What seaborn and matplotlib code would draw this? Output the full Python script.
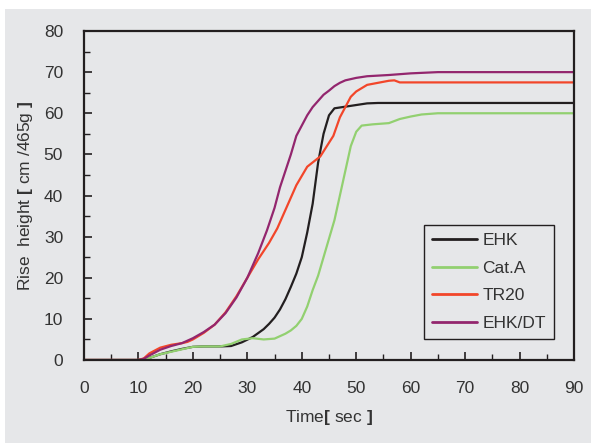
import matplotlib
matplotlib.use("Agg")
import matplotlib.pyplot as plt
import seaborn as sns
import pandas as pd
import numpy as np
from matplotlib.patches import Rectangle

# 读取图中曲线的数据 (Time [sec], Rise height [cm/465g])
ehk_t = [0, 10, 12, 14, 16, 18, 20, 22, 25, 27, 29, 31, 33, 34, 35, 36, 37, 38, 39, 40, 41, 42, 43, 44, 45, 46, 48, 50, 52, 54, 90]
ehk_v = [0, 0, 0.5, 1.4, 2.1, 2.7, 3.2, 3.3, 3.3, 3.4, 4.3, 5.6, 7.5, 8.8, 10.3, 12.3, 14.8, 17.8, 21.0, 25.0, 31.0, 38.0, 48.0, 55.0, 59.5, 61.2, 61.6, 62.0, 62.4, 62.5, 62.5]

cata_t = [0, 10, 12, 14, 16, 18, 20, 22, 25, 27, 29, 31, 33, 35, 37, 38, 39, 40, 41, 42, 43, 44, 45, 46, 47, 48, 49, 50, 51, 53, 55, 56, 58, 60, 62, 65, 90]
cata_v = [0, 0, 0.5, 1.4, 2.0, 2.6, 3.2, 3.3, 3.3, 3.9, 5.0, 5.3, 5.0, 5.2, 6.4, 7.2, 8.3, 10.0, 13.0, 17.0, 20.5, 25.0, 29.5, 34.0, 40.0, 46.0, 52.0, 55.5, 57.0, 57.3, 57.5, 57.6, 58.6, 59.2, 59.7, 60.0, 60.0]

tr20_t = [0, 10, 11, 12, 14, 16, 18, 19, 20, 22, 24, 26, 28, 30, 32, 34, 35.5, 37.5, 39, 41, 43.4, 45.8, 47, 48, 49, 50, 52, 54, 56, 57, 58, 90]
tr20_v = [0, 0, 0.4, 1.6, 3.0, 3.7, 4.1, 4.4, 5.0, 6.6, 8.6, 11.6, 15.5, 20.0, 24.5, 28.5, 32.0, 38.0, 42.5, 47.0, 49.5, 54.5, 59.0, 61.5, 64.0, 65.3, 66.9, 67.4, 67.9, 68.0, 67.5, 67.5]

ehkdt_t = [0, 10, 11, 12, 14, 16, 18, 20, 22, 24, 26, 28, 30, 32, 33.6, 35, 36, 37, 38, 39, 40, 41, 42, 43, 44, 45, 46, 47, 48, 50, 52, 56, 60, 65, 90]
ehkdt_v = [0, 0, 0.3, 1.1, 2.5, 3.4, 4.1, 5.3, 6.8, 8.6, 11.4, 15.2, 20.0, 26.0, 31.5, 37.0, 42.0, 46.0, 50.0, 54.5, 57.0, 59.5, 61.5, 63.0, 64.5, 65.5, 66.6, 67.4, 68.0, 68.6, 69.0, 69.3, 69.7, 70.0, 70.0]

series_names = ["EHK", "Cat.A", "TR20", "EHK/DT"]
series_colors = ["#231f20", "#92d070", "#f2462a", "#93266e"]

frames = []
for name, t, v in zip(series_names,
                      [ehk_t, cata_t, tr20_t, ehkdt_t],
                      [ehk_v, cata_v, tr20_v, ehkdt_v]):
    frames.append(pd.DataFrame({"Time": t, "Height": v, "Series": name}))
df = pd.concat(frames, ignore_index=True)

sns.set_theme(style="ticks")
plt.rcParams["font.family"] = ["Liberation Sans", "DejaVu Sans"]
plt.rcParams["mathtext.fontset"] = "custom"
plt.rcParams["mathtext.rm"] = "Liberation Sans"
plt.rcParams["mathtext.bf"] = "Liberation Sans:bold"

bg = "#e6e7e9"
fig = plt.figure(figsize=(5.91, 4.43), dpi=100, facecolor="white")
fig.patches.append(Rectangle((5 / 591, 0), 1, 1 - 9 / 443, transform=fig.transFigure,
                             facecolor=bg, edgecolor="none", zorder=-10))
ax = fig.add_axes([84 / 591, 83 / 443, 490 / 591, 329 / 443])
ax.set_facecolor(bg)

sns.lineplot(data=df, x="Time", y="Height", hue="Series", hue_order=series_names,
             palette=series_colors, estimator=None, sort=False, linewidth=1.6, ax=ax)

ax.set_xlim(0, 90)
ax.set_ylim(0, 80)
ax.set_xticks(np.arange(0, 91, 10))
ax.set_yticks(np.arange(0, 81, 10))
ax.set_xticks(np.arange(5, 90, 5), minor=True)
ax.set_yticks(np.arange(5, 80, 5), minor=True)
ax.tick_params(which="both", direction="in", colors="#231f20", labelcolor="#333333",
               labelsize=12.5, top=False, right=False)
ax.tick_params(which="major", length=6, width=1.2)
ax.tick_params(axis="x", which="major", pad=15)
ax.tick_params(axis="y", which="major", pad=15)
ax.tick_params(which="minor", length=4.5, width=1)
for s in ax.spines.values():
    s.set_linewidth(1.6)
    s.set_color("#231f20")

ax.set_xlabel(r"Time$\mathbf{[}$ sec $\mathbf{]}$", fontsize=12.5, color="#333333", labelpad=9)
ax.set_ylabel(r"Rise  height $\mathbf{[}$ cm /465g $\mathbf{]}$", fontsize=12.5, color="#333333", labelpad=6)

leg = ax.legend(loc="lower right", bbox_to_anchor=(0.959, 0.064), fontsize=12.5,
                frameon=True, fancybox=False, handlelength=2.6, handletextpad=0.3,
                borderpad=0.45, labelspacing=0.72, borderaxespad=0)
leg.get_frame().set_edgecolor("#231f20")
leg.get_frame().set_facecolor(bg)
leg.get_frame().set_linewidth(1)
leg.get_frame().set_alpha(1)
for line in leg.get_lines():
    line.set_linewidth(2)
for txt in leg.get_texts():
    txt.set_color("#333333")

plt.savefig("out.png", dpi=100, facecolor="white")
